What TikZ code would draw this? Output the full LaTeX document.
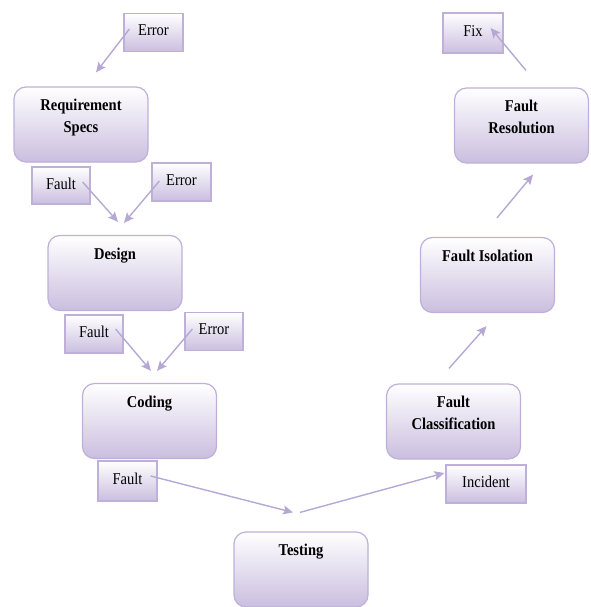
\documentclass[tikz,border=0pt]{standalone}
\usepackage{fontspec}
\setmainfont{Liberation Serif}[FakeStretch=0.88]
\usetikzlibrary{arrows.meta}
\definecolor{lilacline}{RGB}{190,176,216}
\definecolor{lilacfill}{RGB}{202,190,223}
\definecolor{lilacarrow}{RGB}{182,168,212}
\tikzset{
  phase/.style={draw=lilacline, line width=1.2pt, rounded corners=12pt, top color=white, bottom color=lilacfill, minimum width=134pt, minimum height=75pt, inner sep=0pt},
  phasetxt/.style={anchor=north, yshift=-12.5pt, inner sep=0pt, align=center, font=\fontsize{16.5}{21.5}\selectfont\bfseries},
  tag/.style={draw=lilacline, line width=1.2pt, top color=white, bottom color=lilacfill, minimum width=58pt, minimum height=38pt, inner sep=0pt, text depth=4pt, font=\fontsize{16.5}{20}\selectfont},
  flow/.style={draw=lilacarrow, line width=1.4pt, -{Stealth[length=10pt,width=9pt,inset=2pt]}}
}
\begin{document}
\begin{tikzpicture}[x=1pt,y=-1pt]
\useasboundingbox (0,0) rectangle (590,607);
% phases
\node[phase] (req) at (81,124.5){};
\node[phasetxt] at (req.north){Requirement\\Specs};
\node[phase] (des) at (115,273){};
\node[phasetxt] at (des.north){Design};
\node[phase] (cod) at (149.5,421){};
\node[phasetxt] at (cod.north){Coding};
\node[phase] (tst) at (301,569.5){};
\node[phasetxt] at (tst.north){Testing};
\node[phase] (cls) at (453.5,421.5){};
\node[phasetxt] at (cls.north){Fault\\Classification};
\node[phase] (iso) at (487.5,275){};
\node[phasetxt] at (iso.north){Fault Isolation};
\node[phase] (res) at (521.5,125.5){};
\node[phasetxt] at (res.north){Fault\\Resolution};
% tags
\node[tag, minimum width=59pt] (err0) at (153.5,32.5){Error};
\node[tag, minimum height=37pt] (flt1) at (61,185.5){Fault};
\node[tag, minimum width=59pt] (err1) at (181.5,182){Error};
\node[tag] (flt2) at (94,334){Fault};
\node[tag] (err2) at (214,331.5){Error};
\node[tag, minimum width=59pt, minimum height=40pt] (flt3) at (127.5,481){Fault};
\node[tag, minimum width=80pt] (inc) at (486,484){Incident};
\node[tag, minimum width=60pt, minimum height=40pt] (fix) at (473,33){Fix};
% arrows
\draw[flow] ([shift={(6,-3.5)}]err0.west) -- ([shift={(15,-14)}]req.north);
\draw[flow] ([shift={(-8,-3.5)}]flt1.east) -- ([shift={(3,-13)}]des.north);
\draw[flow] ([shift={(8,-1)}]err1.west) -- ([shift={(9,-12)}]des.north);
\draw[flow] ([shift={(-8,-5)}]flt2.east) -- ([shift={(1.5,-12)}]cod.north);
\draw[flow] ([shift={(8,-2.5)}]err2.west) -- ([shift={(7.5,-12)}]cod.north);
\draw[flow] ([shift={(-7,-5)}]flt3.east) -- ([shift={(-8,-19)}]tst.north);
\draw[flow] ([shift={(-1,-19)}]tst.north) -- ([shift={(-1,-11)}]inc.west);
\draw[flow] ([shift={(-4.5,-15)}]cls.north) -- ([shift={(-1,13)}]iso.south);
\draw[flow] ([shift={(9.5,-19)}]iso.north) -- ([shift={(11.5,11)}]res.south);
\draw[flow] ([shift={(4.5,-17)}]res.north) -- ([shift={(-13,-5)}]fix.east);
\end{tikzpicture}
\end{document}
